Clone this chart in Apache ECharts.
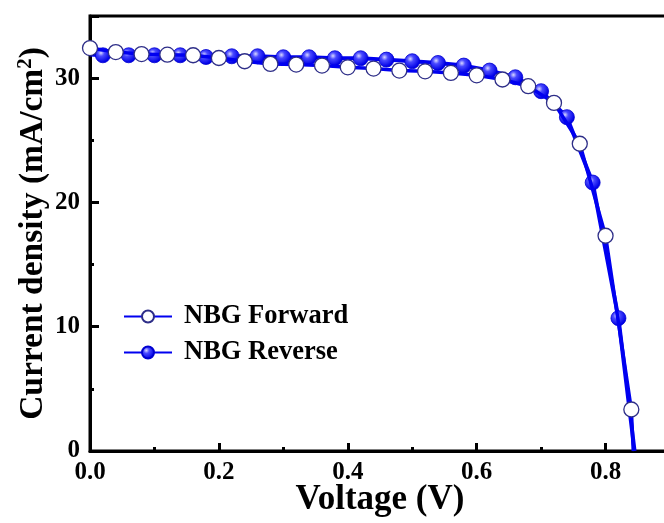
<!DOCTYPE html>
<html>
<head>
<meta charset="utf-8">
<script src="https://cdn.jsdelivr.net/npm/echarts@6/dist/echarts.min.js"></script>
<style>
  html, body { margin: 0; padding: 0; background: #ffffff; }
  #chart { width: 664px; height: 523px; }
</style>
</head>
<body>
<div id="chart"></div>
<script>
// J-V sweep data (voltage in V, current density in mA/cm2)
const forwardVoltage = [0.00, 0.04, 0.08, 0.12, 0.16, 0.20, 0.24, 0.28, 0.32, 0.36, 0.40, 0.44,
                        0.48, 0.52, 0.56, 0.60, 0.64, 0.68, 0.72, 0.76, 0.80, 0.84, 0.843];
const forwardCurrent = [32.42, 32.10, 31.94, 31.89, 31.84, 31.62, 31.36, 31.14, 31.09, 31.01, 30.87, 30.77,
                        30.61, 30.55, 30.42, 30.23, 29.89, 29.35, 28.01, 24.72, 17.32, 3.34, 0];

const reverseVoltage = [0.00, 0.02, 0.06, 0.10, 0.14, 0.18, 0.22, 0.26, 0.30, 0.34, 0.38, 0.42,
                        0.46, 0.50, 0.54, 0.58, 0.62, 0.66, 0.70, 0.74, 0.78, 0.82, 0.845];
const reverseCurrent = [31.90, 31.84, 31.84, 31.84, 31.84, 31.70, 31.76, 31.76, 31.68, 31.68, 31.60, 31.60,
                        31.49, 31.36, 31.22, 31.01, 30.61, 30.07, 28.95, 26.86, 21.60, 10.69, 0];

const seriesNames = ['NBG Forward', 'NBG Reverse'];
const xTicks = [0.0, 0.2, 0.4, 0.6, 0.8];
const yTicks = [0, 10, 20, 30];

// sweep endpoints are drawn as line only (no marker)
const forwardPoints = forwardVoltage.map((x, i) => {
  const item = { value: [x, forwardCurrent[i]] };
  if (i === forwardVoltage.length - 1) item.symbol = 'none';
  return item;
});
const reversePoints = reverseVoltage.map((x, i) => {
  const item = { value: [x, reverseCurrent[i]] };
  if (i === 0 || i === reverseVoltage.length - 1) item.symbol = 'none';
  return item;
});

const FONT = '"Liberation Serif", "Times New Roman", serif';
const LINE_BLUE = '#0000f0';

const sphere = new echarts.graphic.RadialGradient(0.38, 0.35, 0.6, [
  { offset: 0, color: '#d8d8ff' },
  { offset: 0.35, color: '#4a4aff' },
  { offset: 1, color: '#0000e6' }
]);

const chart = echarts.init(document.getElementById('chart'), null, { renderer: 'canvas' });

chart.setOption({
  animation: false,
  backgroundColor: '#ffffff',
  grid: {
    left: 90, top: 16, width: 580, bottom: 72,
    outerBoundsMode: 'none',
    containLabel: false,
    show: true, borderColor: '#000', borderWidth: 3, backgroundColor: 'transparent'
  },
  legend: {
    orient: 'vertical',
    left: 123,
    top: 303,
    padding: 0,
    itemWidth: 48,
    itemHeight: 15,
    itemGap: 9,
    data: seriesNames,
    textStyle: {
      fontFamily: FONT, fontWeight: 'bold', fontSize: 26.5, color: '#000',
      padding: [0, 0, 0, 7]
    }
  },
  xAxis: {
    type: 'value',
    min: 0, max: 0.9, interval: 0.2,
    name: 'Voltage (V)',
    nameLocation: 'middle',
    nameGap: 31,
    nameMoveOverlap: false,
    nameTextStyle: { fontFamily: FONT, fontWeight: 'bold', fontSize: 35, color: '#000' },
    axisLine: { onZero: false, lineStyle: { color: '#000', width: 3 } },
    axisTick: { inside: true, length: 8, lineStyle: { color: '#000', width: 3 } },
    minorTick: { show: true, splitNumber: 2, length: 4, lineStyle: { color: '#000', width: 3 } },
    splitLine: { show: false },
    axisLabel: {
      margin: 9,
      fontFamily: FONT, fontWeight: 'bold', fontSize: 25, color: '#000',
      formatter: v => (xTicks.some(t => Math.abs(t - v) < 1e-9) ? v.toFixed(1) : '')
    }
  },
  yAxis: {
    type: 'value',
    min: 0, max: 35, interval: 10,
    name: '{t|Current density (mA/cm}{s|2}{t|)}',
    nameLocation: 'middle',
    nameGap: 40,
    nameMoveOverlap: false,
    nameTextStyle: {
      fontFamily: FONT, fontWeight: 'bold', fontSize: 33.5, color: '#000',
      rich: {
        t: { fontFamily: FONT, fontWeight: 'bold', fontSize: 33.5, color: '#000', lineHeight: 40, verticalAlign: 'bottom' },
        s: { fontFamily: FONT, fontWeight: 'bold', fontSize: 21, color: '#000', lineHeight: 40, verticalAlign: 'bottom', padding: [0, 0, 14, 0] }
      }
    },
    axisLine: { onZero: false, lineStyle: { color: '#000', width: 3 } },
    axisTick: { inside: true, length: 9, lineStyle: { color: '#000', width: 3 } },
    minorTick: { show: true, splitNumber: 2, length: 4, lineStyle: { color: '#000', width: 3 } },
    splitLine: { show: false },
    axisLabel: {
      margin: 10,
      fontFamily: FONT, fontWeight: 'bold', fontSize: 25, color: '#000',
      formatter: v => (yTicks.indexOf(v) >= 0 ? String(v) : '')
    }
  },
  series: [
    {
      name: seriesNames[1],
      type: 'line',
      data: reversePoints,
      showAllSymbol: true,
      symbol: 'circle',
      symbolSize: 15,
      lineStyle: { color: LINE_BLUE, width: 4 },
      itemStyle: { color: sphere, borderColor: '#0000d0', borderWidth: 0.8 },
      z: 2
    },
    {
      name: seriesNames[0],
      type: 'line',
      data: forwardPoints,
      showAllSymbol: true,
      symbol: 'circle',
      symbolSize: 15,
      lineStyle: { color: LINE_BLUE, width: 3.5 },
      itemStyle: { color: '#ffffff', borderColor: '#2e2e88', borderWidth: 1.3 },
      z: 3
    }
  ]
});
</script>
</body>
</html>
